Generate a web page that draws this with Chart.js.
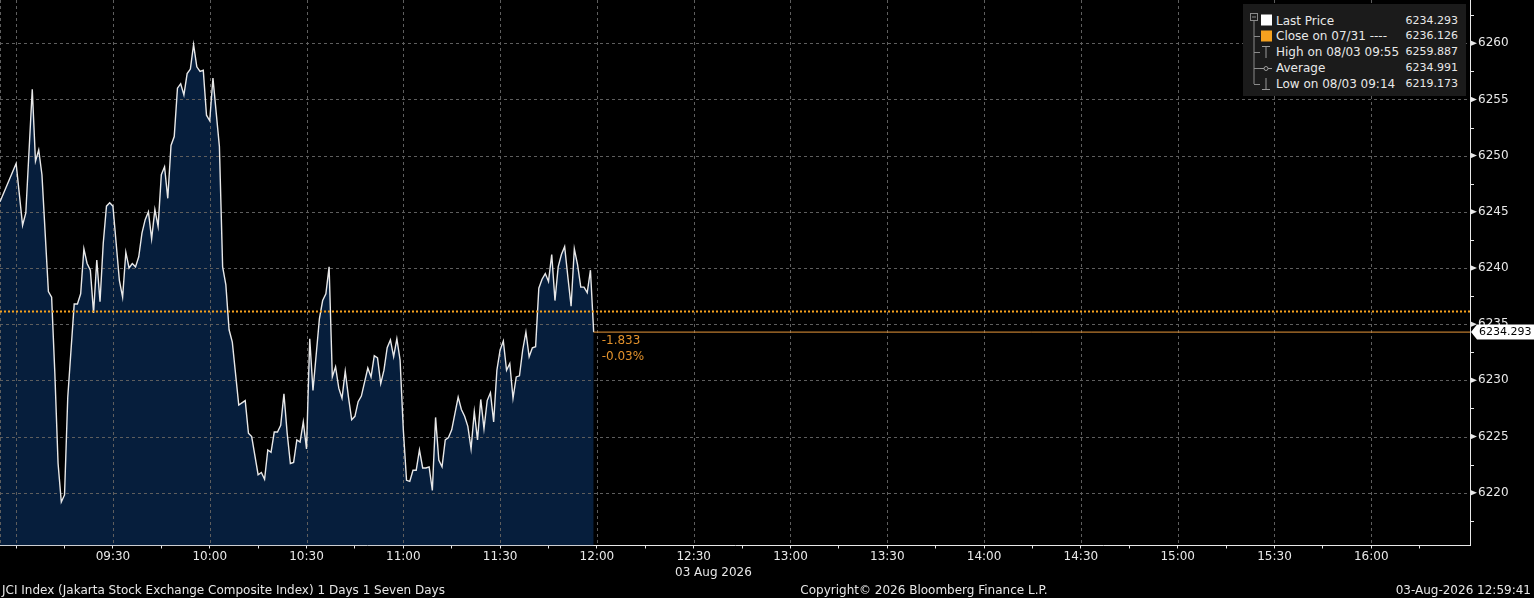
<!DOCTYPE html>
<html>
<head>
<meta charset="utf-8">
<script src="https://cdn.jsdelivr.net/npm/chart.js@4.4.1/dist/chart.umd.min.js"></script>
<style>
  html, body { margin:0; padding:0; background:#000; overflow:hidden; }
  #wrap { position:relative; width:1534px; height:598px; background:#000; font-family:'DejaVu Sans', sans-serif; color:#e6e6e6; }
  #c { position:absolute; left:0; top:0; }
  .t { position:absolute; white-space:nowrap; font-size:12px; line-height:14px; }
  #legend { position:absolute; left:1243px; top:4px; width:223px; height:92px; background:#1b1b1b; }
  #legend svg { position:absolute; left:0; top:0; }
  .lt { position:absolute; white-space:nowrap; font-size:12px; line-height:14px; color:#e8e8e8; }
  .lv { position:absolute; white-space:nowrap; font-size:11px; line-height:14px; color:#e8e8e8; text-align:right; width:90px; }
  .foot { position:absolute; top:583px; white-space:nowrap; font-size:12px; line-height:14px; color:#e6e6e6; }
</style>
</head>
<body>
<div id="wrap">
  <canvas id="c" width="1534" height="598"></canvas>
  <div id="legend"></div>
  <div class="t" style="left:675px; top:565px;">03 Aug 2026</div>
  <div class="foot" style="left:2px;">JCI Index (Jakarta Stock Exchange Composite Index) 1 Days 1 Seven Days</div>
  <div class="foot" style="left:924px; transform:translateX(-50%);">Copyright© 2026 Bloomberg Finance L.P.</div>
  <div class="foot" style="right:3px;">03-Aug-2026 12:59:41</div>
</div>
<script>
// ---------- data ----------
const times = [
  '08:55','09:00','09:02','09:03','09:05','09:06','09:07','09:08','09:10','09:11',
  '09:12','09:13','09:14','09:15','09:16','09:18','09:19','09:20','09:21','09:22',
  '09:23','09:24','09:25','09:26','09:27','09:28','09:29','09:30','09:31','09:32',
  '09:33','09:34','09:35','09:36','09:37','09:38','09:39','09:40','09:41','09:42',
  '09:43','09:44','09:45','09:46','09:47','09:48','09:49','09:50','09:51','09:52',
  '09:53','09:54','09:55','09:56','09:57','09:58','09:59','10:00','10:01','10:03',
  '10:04','10:05','10:06','10:07','10:09','10:11','10:12','10:13','10:15','10:16',
  '10:17','10:18','10:19','10:20','10:21','10:22','10:23','10:24','10:25','10:26',
  '10:27','10:28','10:29','10:30','10:31','10:32','10:34','10:35','10:36','10:37',
  '10:38','10:39','10:40','10:41','10:42','10:43','10:44','10:45','10:46','10:47',
  '10:49','10:50','10:51','10:52','10:53','10:54','10:55','10:56','10:57','10:58',
  '10:59','11:00','11:01','11:02','11:03','11:04','11:05','11:06','11:07','11:08',
  '11:09','11:10','11:11','11:12','11:13','11:14','11:15','11:17','11:18','11:19',
  '11:20','11:21','11:22','11:23','11:24','11:25','11:26','11:27','11:28','11:29',
  '11:30','11:31','11:32','11:33','11:34','11:35','11:36','11:37','11:38','11:39',
  '11:40','11:41','11:42','11:43','11:44','11:45','11:46','11:47','11:48','11:49',
  '11:50','11:51','11:52','11:53','11:54','11:55','11:56','11:57','11:58','11:59'
];
const prices = [
  6245.9, 6249.3, 6243.8, 6244.9, 6255.9, 6249.5, 6250.5, 6248.3, 6237.9, 6237.4,
  6230.6, 6222.6, 6219.173, 6219.8, 6228.5, 6236.8, 6236.8, 6237.7, 6241.7, 6240.4,
  6239.8, 6236.0, 6240.7, 6237.0, 6242.2, 6245.5, 6245.8, 6245.5, 6242.2, 6238.9,
  6237.4, 6241.4, 6240.0, 6240.4, 6240.1, 6241.0, 6243.1, 6244.3, 6245.0, 6242.6,
  6245.2, 6243.7, 6248.3, 6249.0, 6246.2, 6250.9, 6251.7, 6256.0, 6256.4, 6255.4,
  6257.3, 6257.7, 6259.887, 6257.9, 6257.5, 6257.6, 6253.6, 6253.1, 6256.9, 6250.8,
  6240.1, 6238.5, 6234.5, 6233.4, 6227.8, 6228.2, 6225.3, 6225.0, 6221.6, 6221.8,
  6221.2, 6223.8, 6223.6, 6225.4, 6225.4, 6226.0, 6228.8, 6225.3, 6222.6, 6222.7,
  6224.7, 6224.5, 6226.3, 6223.9, 6233.7, 6229.1, 6235.5, 6237.1, 6237.7, 6240.1,
  6230.3, 6231.2, 6229.3, 6228.4, 6230.8, 6228.5, 6226.5, 6226.8, 6228.1, 6228.6,
  6231.1, 6230.3, 6232.2, 6232.0, 6229.7, 6230.9, 6232.9, 6233.6, 6232.1, 6233.7,
  6231.8, 6225.6, 6221.1, 6221.0, 6222.0, 6222.0, 6223.8, 6222.2, 6222.2, 6222.3,
  6220.2, 6226.7, 6222.9, 6222.3, 6224.7, 6224.9, 6225.6, 6228.5, 6227.4, 6226.8,
  6225.9, 6223.9, 6227.2, 6224.7, 6228.3, 6225.7, 6228.2, 6228.9, 6226.3, 6230.9,
  6232.7, 6233.5, 6230.9, 6231.5, 6228.4, 6230.3, 6230.4, 6232.7, 6234.3, 6232.1,
  6232.9, 6233.0, 6238.2, 6239.0, 6239.5, 6238.8, 6241.2, 6237.1, 6240.1, 6241.2,
  6241.9, 6239.2, 6236.6, 6241.7, 6240.3, 6238.3, 6238.3, 6237.8, 6239.8, 6234.293
];
const prevClose = 6236.126;
const lastPrice = 6234.293;
const netChange = '-1.833';
const pctChange = '-0.03%';

const xTickLabels = ['09:30','10:00','10:30','11:00','11:30','12:00','12:30','13:00','13:30','14:00','14:30','15:00','15:30','16:00'];
const xGridTimes = ['09:00','09:30','10:00','10:30','11:00','11:30','12:00','12:30','13:00','13:30','14:00','14:30','15:00','15:30','16:00'];
const xQuarterTicks = ['09:00','09:15','09:30','09:45','10:00','10:15','10:30','10:45','11:00','11:15','11:30','11:45','12:00','12:15','12:30','12:45','13:00','13:15','13:30','13:45','14:00','14:15','14:30','14:45','15:00','15:15','15:30','15:45','16:00','16:15'];
const yTicks = [6220, 6225, 6230, 6235, 6240, 6245, 6250, 6255, 6260];
const yMinorTicks = [6217.5, 6222.5, 6227.5, 6232.5, 6237.5, 6242.5, 6247.5, 6252.5, 6257.5, 6262.5];

const legendLabels = ['Last Price', 'Close on 07/31 ----', 'High on 08/03 09:55', 'Average', 'Low on 08/03 09:14'];
const legendValues = ['6234.293', '6236.126', '6259.887', '6234.991', '6219.173'];

// ---------- helpers ----------
const toMin = s => { const [h, m] = s.split(':').map(Number); return h * 60 + m; };
const X_MIN = toMin('08:55');
const X_MAX = 990.6;
const Y_MIN = 6215.3;
const Y_MAX = 6263.85;

const pricePts = times.map((t, i) => ({ x: toMin(t), y: prices[i] }));
const lastX = toMin(times[times.length - 1]);
const labelMap = {};
xTickLabels.forEach(l => { labelMap[toMin(l)] = l; });

const WHITE = '#e8e8e8';
const ORANGE = '#f5a11f';
const GRID = '#5e5e5e';
const FONT = { family: "'DejaVu Sans', sans-serif", size: 12 };

// ---------- legend (HTML) ----------
(function buildLegend() {
  const lg = document.getElementById('legend');
  const rowsY = [16.5, 32, 48, 64, 80];
  let svg = '<svg width="223" height="92" xmlns="http://www.w3.org/2000/svg">';
  svg += '<rect x="7.5" y="9.5" width="7" height="7" fill="none" stroke="#8a8a8a"/>';
  svg += '<line x1="9" y1="13" x2="13" y2="13" stroke="#8a8a8a"/>';
  svg += '<line x1="11" y1="16.5" x2="11" y2="80" stroke="#8a8a8a"/>';
  for (let i = 1; i < rowsY.length; i++) {
    svg += `<line x1="11" y1="${rowsY[i] + 0.5}" x2="17" y2="${rowsY[i] + 0.5}" stroke="#8a8a8a"/>`;
  }
  svg += '<rect x="18" y="10.5" width="11" height="11" fill="#ffffff"/>';
  svg += '<rect x="18" y="26.5" width="11" height="11" fill="' + ORANGE + '"/>';
  svg += '<line x1="19" y1="42.5" x2="27" y2="42.5" stroke="#9a9a9a"/>';
  svg += '<line x1="23" y1="42.5" x2="23" y2="54" stroke="#9a9a9a"/>';
  svg += '<line x1="17" y1="64.5" x2="29" y2="64.5" stroke="#9a9a9a"/>';
  svg += '<circle cx="23" cy="64.5" r="2" fill="#1b1b1b" stroke="#9a9a9a"/>';
  svg += '<line x1="23" y1="74" x2="23" y2="85.5" stroke="#9a9a9a"/>';
  svg += '<line x1="19" y1="85.5" x2="27" y2="85.5" stroke="#9a9a9a"/>';
  svg += '</svg>';
  let html = svg;
  legendLabels.forEach((lab, i) => {
    html += `<div class="lt" style="left:33px; top:${rowsY[i] - 7}px;">${lab}</div>`;
    html += `<div class="lv" style="left:125px; top:${rowsY[i] - 7}px;">${legendValues[i]}</div>`;
  });
  lg.innerHTML = html;
})();

// ---------- custom drawing plugin ----------
const bbPlugin = {
  id: 'bb',
  afterDatasetDraw(chart, args) {
    if (args.index !== 3) return;
    const { ctx, chartArea: a, scales: { x, y } } = chart;
    ctx.save();
    ctx.strokeStyle = GRID;
    ctx.lineWidth = 1;
    ctx.setLineDash([3, 3]);
    ctx.beginPath();
    xGridTimes.forEach(t => {
      const px = Math.round(x.getPixelForValue(toMin(t))) + 0.5;
      ctx.moveTo(px, a.top); ctx.lineTo(px, a.bottom);
    });
    yTicks.forEach(v => {
      const py = Math.round(y.getPixelForValue(v)) + 0.5;
      ctx.moveTo(a.left, py); ctx.lineTo(a.right, py);
    });
    ctx.moveTo(a.left + 0.5, a.top); ctx.lineTo(a.left + 0.5, a.bottom);
    ctx.stroke();
    ctx.restore();
  },
  afterDraw(chart) {
    const { ctx, chartArea: a, scales: { x, y } } = chart;
    ctx.save();
    // minor ticks on y axis
    ctx.strokeStyle = WHITE;
    ctx.lineWidth = 1;
    ctx.beginPath();
    yMinorTicks.forEach(v => {
      const py = Math.round(y.getPixelForValue(v)) + 0.5;
      ctx.moveTo(a.right, py); ctx.lineTo(a.right + 4, py);
    });
    ctx.stroke();
    // major tick arrows on y axis
    ctx.fillStyle = WHITE;
    yTicks.forEach(v => {
      const py = y.getPixelForValue(v);
      ctx.beginPath();
      ctx.moveTo(a.right, py - 3);
      ctx.lineTo(a.right + 7, py);
      ctx.lineTo(a.right, py + 3);
      ctx.closePath();
      ctx.fill();
    });
    // last price tag
    const ly = y.getPixelForValue(lastPrice);
    ctx.fillStyle = '#ffffff';
    ctx.beginPath();
    ctx.moveTo(a.right + 1, ly);
    ctx.lineTo(a.right + 7, ly - 7.5);
    ctx.lineTo(chart.width, ly - 7.5);
    ctx.lineTo(chart.width, ly + 7.5);
    ctx.lineTo(a.right + 7, ly + 7.5);
    ctx.closePath();
    ctx.fill();
    ctx.fillStyle = '#000000';
    ctx.font = "11px 'DejaVu Sans', sans-serif";
    ctx.textBaseline = 'middle';
    ctx.textAlign = 'left';
    ctx.fillText(lastPrice.toFixed(3), a.right + 9, ly + 0.5);
    // change annotations
    const lx = x.getPixelForValue(lastX);
    ctx.fillStyle = '#e3922c';
    ctx.font = "12px 'DejaVu Sans', sans-serif";
    ctx.fillText(netChange, lx + 8, ly + 9);
    ctx.fillText(pctChange, lx + 8, ly + 25);
    ctx.restore();
  }
};

// ---------- chart ----------
new Chart(document.getElementById('c'), {
  type: 'line',
  data: {
    datasets: [
      { // 0: previous close dotted line
        data: [{ x: X_MIN, y: prevClose }, { x: X_MAX, y: prevClose }],
        borderColor: ORANGE, borderWidth: 2, borderDash: [2, 2],
        pointRadius: 0, fill: false, tension: 0
      },
      { // 1: last price extension
        data: [{ x: lastX, y: lastPrice }, { x: X_MAX, y: lastPrice }],
        borderColor: '#e8973a', borderWidth: 1,
        pointRadius: 0, fill: false, tension: 0
      },
      { // 2: price line
        data: pricePts,
        borderColor: WHITE, borderWidth: 1.4,
        pointRadius: 0, fill: false, tension: 0
      },
      { // 3: price area
        data: pricePts,
        borderWidth: 0, borderColor: 'rgba(0,0,0,0)',
        backgroundColor: '#061e3c',
        pointRadius: 0, fill: 'start', tension: 0
      }
    ]
  },
  options: {
    responsive: false,
    maintainAspectRatio: false,
    animation: false,
    devicePixelRatio: 1,
    layout: { padding: 0, autoPadding: false },
    plugins: { legend: { display: false }, tooltip: { enabled: false } },
    scales: {
      x: {
        type: 'linear', position: 'bottom',
        min: X_MIN, max: X_MAX,
        afterBuildTicks: s => { s.ticks = xQuarterTicks.map(t => ({ value: toMin(t) })); },
        afterFit: s => { s.height = 52.5; s.paddingLeft = 0; s.paddingRight = 0; },
        grid: { drawOnChartArea: false, drawTicks: true, tickLength: 3, tickColor: WHITE, tickWidth: 1 },
        border: { display: true, color: WHITE, width: 1 },
        ticks: {
          autoSkip: false, maxRotation: 0, minRotation: 0, padding: 1,
          color: WHITE, font: FONT,
          callback: v => labelMap[v] || ''
        }
      },
      y: {
        type: 'linear', position: 'right',
        min: Y_MIN, max: Y_MAX,
        afterBuildTicks: s => { s.ticks = yTicks.map(v => ({ value: v })); },
        afterFit: s => { s.width = 64; s.paddingTop = 0; s.paddingBottom = 0; },
        grid: { drawOnChartArea: false, drawTicks: true, tickLength: 3, tickWidth: 1, tickColor: 'rgba(0,0,0,0)' },
        border: { display: true, color: WHITE, width: 1 },
        ticks: {
          autoSkip: false, padding: 5, color: WHITE, font: FONT,
          callback: v => String(v)
        }
      }
    }
  },
  plugins: [bbPlugin]
});
</script>
</body>
</html>
